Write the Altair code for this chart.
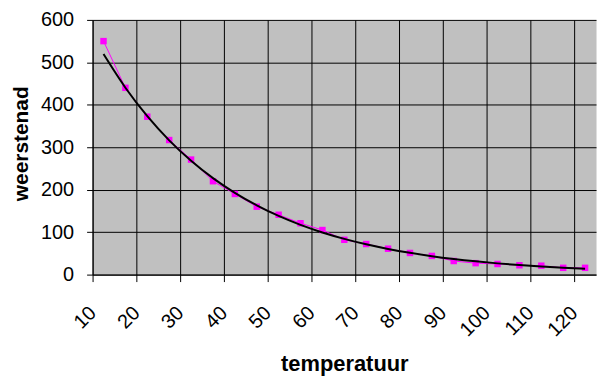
import altair as alt
import pandas as pd

# data
temperatuur = [12.5, 17.5, 22.5, 27.5, 32.5, 37.5, 42.5, 47.5, 52.5, 57.5, 62.5, 67.5,
               72.5, 77.5, 82.5, 87.5, 92.5, 97.5, 102.5, 107.5, 112.5, 117.5, 122.5]
weerstand = [550, 440, 372, 317, 271, 220, 190, 160, 141, 121, 105, 82,
             72, 61, 51, 44, 32, 27, 25, 22, 21, 16, 16]

x_ticks = [10, 15, 20, 25, 30, 35, 40, 45, 50, 55, 60, 65, 70, 75, 80, 85, 90, 95,
           100, 105, 110, 115, 120, 125]
y_ticks = [0, 100, 200, 300, 400, 500, 600]

df = pd.DataFrame({"t": temperatuur, "r": weerstand})

FONT = "Liberation Sans"

x_enc = alt.X(
    "t:Q",
    scale=alt.Scale(domain=[10, 125], nice=False, zero=False),
    axis=alt.Axis(
        values=x_ticks,
        labelExpr="datum.value % 10 == 0 ? datum.label : ''",
        labelAngle=-45,
        labelAlign="right",
        labelBaseline="middle",
        labelFontSize=20,
        labelFont=FONT,
        labelColor="black",
        labelPadding=28,
        tickSize=7,
        tickColor="black",
        domainColor="black",
        grid=True,
        gridColor="black",
        gridWidth=1,
        gridOpacity=1,
        title="temperatuur",
        titleFont=FONT,
        titleFontSize=22,
        titleFontWeight="bold",
        titleColor="black",
        titleBaseline="alphabetic",
        titleY=96,
        labelOverlap=False,
        labelFlush=False,
    ),
)

y_enc = alt.Y(
    "r:Q",
    scale=alt.Scale(domain=[0, 600], nice=False),
    axis=alt.Axis(
        values=y_ticks,
        labelFontSize=20,
        labelFont=FONT,
        labelColor="black",
        labelPadding=13,
        tickSize=6,
        tickColor="black",
        domainColor="black",
        grid=True,
        gridColor="black",
        gridWidth=1,
        gridOpacity=1,
        title="weerstenad",
        titleFont=FONT,
        titleFontSize=21,
        titleFontWeight="bold",
        titleColor="black",
        titleBaseline="alphabetic",
        titleX=-65,
        titleY=124,
        labelFlush=False,
    ),
)

base = alt.Chart(df)

line = base.mark_line(color="#FF00FF", strokeWidth=1).encode(x=x_enc, y=y_enc)
pts = base.mark_square(color="#FF00FF", size=42, opacity=1).encode(x="t:Q", y="r:Q")

trend = (
    base.transform_calculate(
        ly="log(datum.r)", xly="datum.t*log(datum.r)", x2="datum.t*datum.t"
    )
    .transform_joinaggregate(mx="mean(t)", mly="mean(ly)", mxly="mean(xly)", mx2="mean(x2)")
    .transform_calculate(b="(datum.mxly - datum.mx*datum.mly)/(datum.mx2 - datum.mx*datum.mx)")
    .transform_calculate(fit="exp(datum.mly + datum.b*(datum.t - datum.mx))")
    .mark_line(color="black", strokeWidth=2, interpolate="monotone")
    .encode(x="t:Q", y="fit:Q")
)

chart = (
    alt.layer(line, pts, trend)
    .properties(
        width=506,
        height=256,
        autosize=alt.AutoSizeParams(type="none"),
        padding={"left": 85, "top": 11, "right": 5, "bottom": 110},
        background="white",
    )
    .configure_view(fill="#C0C0C0", stroke="transparent")
)

chart.save("out.html", embed_options={"renderer": "svg", "actions": False})
